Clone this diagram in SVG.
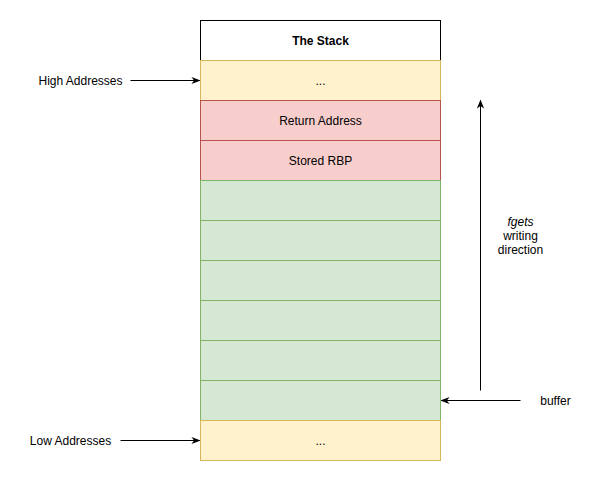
<svg xmlns="http://www.w3.org/2000/svg" width="601" height="481" viewBox="0 0 601 481">
<style>
text{font-family:"Liberation Sans",Arial,sans-serif;font-size:12px;fill:#000;text-anchor:middle;dominant-baseline:central}
.y{fill:#fff2cc;stroke:#d6b656}
.r{fill:#f8cecc;stroke:#b85450}
.g{fill:#d5e8d4;stroke:#82b366}
.c{stroke:#000;stroke-width:1;fill:none}
</style>
<defs>
<marker id="a" viewBox="0 0 10 10" refX="9" refY="5" markerWidth="9" markerHeight="9" markerUnits="userSpaceOnUse" orient="auto">
<path d="M0,1 L10,5 L0,9 L3,5 Z" fill="#000"/>
</marker>
</defs>
<rect width="601" height="481" fill="#fff"/>
<g transform="translate(0.5,0.5)">
<g id="stack">
<rect x="200" y="20" width="240" height="40" fill="#fff" stroke="#000"/>
<text x="320" y="40.5" font-weight="bold">The Stack</text>
</g>
<g id="high"><rect class="y" x="200" y="60" width="240" height="40"/><text x="320" y="80.5">...</text></g>
<g id="ret"><rect class="r" x="200" y="100" width="240" height="40"/><text x="320" y="120.5">Return Address</text></g>
<g id="rbp"><rect class="r" x="200" y="140" width="240" height="40"/><text x="320" y="160.5">Stored RBP</text></g>
<g id="g1"><rect class="g" x="200" y="180" width="240" height="40"/></g>
<g id="g2"><rect class="g" x="200" y="220" width="240" height="40"/></g>
<g id="g3"><rect class="g" x="200" y="260" width="240" height="40"/></g>
<g id="g4"><rect class="g" x="200" y="300" width="240" height="40"/></g>
<g id="g5"><rect class="g" x="200" y="340" width="240" height="40"/></g>
<g id="g6"><rect class="g" x="200" y="380" width="240" height="40"/></g>
<g id="low"><rect class="y" x="200" y="420" width="240" height="40"/><text x="320" y="440.5">...</text></g>
<g id="labels">
<text x="80" y="80.5">High Addresses</text>
<text x="70" y="440.5">Low Addresses</text>
<text x="555" y="400.5">buffer</text>
<text x="520" y="221.5" font-style="italic">fgets</text>
<text x="520" y="235.5">writing</text>
<text x="520" y="249.5">direction</text>
</g>
<g id="connectors">
<line class="c" x1="130" y1="80" x2="199" y2="80" marker-end="url(#a)"/>
<line class="c" x1="120" y1="440" x2="199" y2="440" marker-end="url(#a)"/>
<line class="c" x1="520" y1="400" x2="441" y2="400" marker-end="url(#a)"/>
<line class="c" x1="480" y1="390" x2="480" y2="100" marker-end="url(#a)"/>
</g>
</g>
</svg>
